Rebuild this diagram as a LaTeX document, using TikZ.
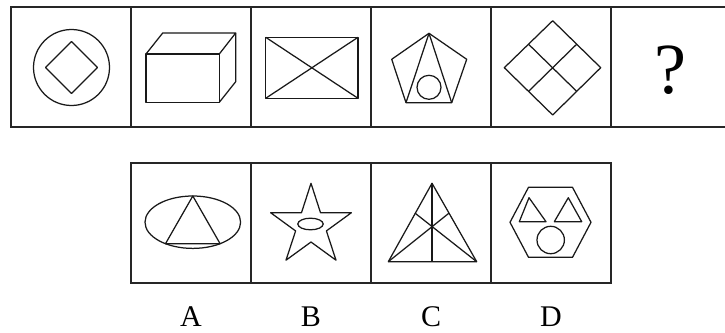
\documentclass[tikz,border=0pt]{standalone}
\usepackage{fontspec}
\setmainfont{Liberation Serif}
\begin{document}
\begin{tikzpicture}[x=1pt,y=-1pt,
  frame/.style={line width=1.5pt,draw=black!85},
  fig/.style={line width=1.25pt,draw=black!90,line join=round},
  lbl/.style={font=\fontsize{30}{30}\selectfont,inner sep=0pt}]
\useasboundingbox (0,0) rectangle (725,332);
% top row frames
\draw[frame] (11,7) rectangle (731,127);
\foreach \x in {131,251,371,491,611} \draw[frame] (\x,7) -- (\x,127);
% bottom row frames
\draw[frame] (131,163) rectangle (611,283);
\foreach \x in {251,371,491} \draw[frame] (\x,163) -- (\x,283);
% 1: circle with diamond
\draw[fig] (71.5,67.5) circle (38);
\draw[fig] (71.5,41.5) -- (97.5,67.5) -- (71.5,93.5) -- (45.5,67.5) -- cycle;
% 2: cuboid
\draw[fig] (146,54) rectangle (219.3,102.3);
\draw[fig] (146,54) -- (162.7,33) -- (235.7,33) -- (219.3,54);
\draw[fig] (235.7,33) -- (235.7,81.7) -- (219.3,102.3);
% 3: rectangle with diagonals
\draw[fig] (265.7,37.3) rectangle (358,98.3);
\draw[fig] (265.7,37.3) -- (358,98.3);
\draw[fig] (265.7,98.3) -- (358,37.3);
% 4: pentagon
\draw[fig] (429,33.3) -- (466.7,59.3) -- (451.7,102.7) -- (406,102.7) -- (391.7,59.3) -- cycle;
\draw[fig] (406,102.7) -- (429,33.3) -- (451.7,102.7);
\draw[fig] (429,87.3) circle (12);
% 5: diamond with cross
\draw[fig] (552.7,20.7) -- (600.7,67.7) -- (552.7,115) -- (504.3,67.7) -- cycle;
\draw[fig] (528.5,44.2) -- (576.7,91.4);
\draw[fig] (576.7,44.2) -- (528.5,91.4);
% 6: question mark
\node[inner sep=0pt,font=\fontsize{72}{72}\selectfont] (q) at (670,70) {?};
% A: ellipse with triangle
\draw[fig] (192.8,222.2) ellipse (47.8 and 26.2);
\draw[fig] (165.5,243.7) -- (192.8,196) -- (220.1,243.7) -- cycle;
% B: star with ellipse
\draw[fig] (311,183.3) -- (320.5,212.7) -- (351.4,212.7) -- (326.4,230.9) -- (336,260.2)
  -- (311,242) -- (286,260.2) -- (295.6,230.9) -- (270.6,212.7) -- (301.5,212.7) -- cycle;
\draw[fig] (310.5,224) ellipse (12.7 and 5.8);
% C: triangle with lines
\draw[fig] (432,183.3) -- (476.7,261.7) -- (388.3,261.7) -- cycle;
\draw[fig] (432,183.3) -- (432,261.7);
\draw[fig] (388.3,261.7) -- (449,213.1);
\draw[fig] (476.7,261.7) -- (415,213.1);
% D: hexagon
\draw[fig] (528.5,187.3) -- (572.5,187.3) -- (591,222.3) -- (572.5,257.3) -- (528.5,257.3) -- (510,222.3) -- cycle;
\draw[fig] (519.3,221.7) -- (529,197.7) -- (546,221.7) -- cycle;
\draw[fig] (554.3,221.7) -- (568.3,197.7) -- (581.7,221.7) -- cycle;
\draw[fig] (550.7,240) circle (13.7);
% labels
\node[lbl] (la) at (191,316.5) {A};
\node[lbl] (lb) at (311,316.5) {B};
\node[lbl] (lc) at (431,316.5) {C};
\node[lbl] (ld) at (551,316.5) {D};
\end{tikzpicture}
\end{document}
